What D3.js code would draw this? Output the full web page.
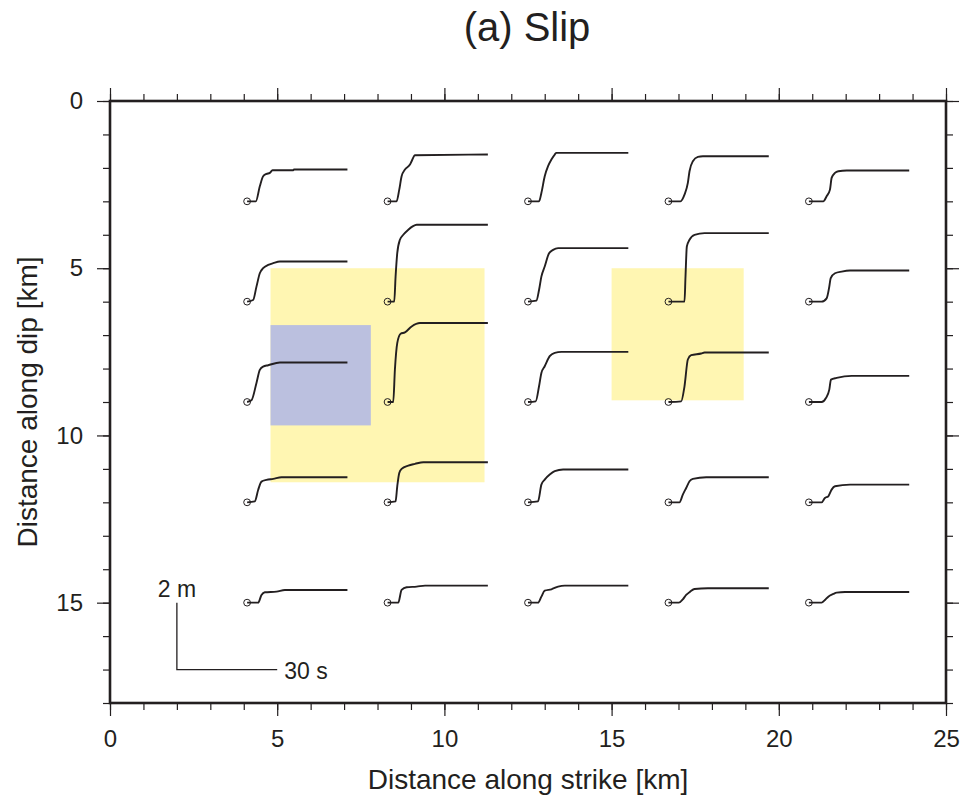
<!DOCTYPE html>
<html>
<head>
<meta charset="utf-8">
<script src="https://cdn.jsdelivr.net/npm/d3@7"></script>
<style>
  html, body { margin: 0; padding: 0; background: #fff; }
  svg { display: block; font-family: "Liberation Sans", Arial, Helvetica, sans-serif; }
</style>
</head>
<body>
<svg id="chart" width="963" height="803"></svg>
<script>
// station grid (km)
const stationX = [4.1, 8.3, 12.5, 16.7, 20.9];
const stationY = [3, 6, 9, 12, 15];

// slip histories, [time s, slip m], one list per row of stations
const slipRow3 = [
  [[0,0],[2.6,0],[3.8,0.45],[4.8,0.75],[5.8,0.82],[6.8,0.85],[7.6,0.93],[13.8,0.93],[14,0.95],[30,0.95]],
  [[0,0],[2.7,0],[3.5,0.35],[4.2,0.75],[5.2,0.95],[6.7,1.1],[7.2,1.2],[8.2,1.38],[30,1.4]],
  [[0,0],[3.3,0],[4.0,0.25],[5.0,0.75],[6.0,1.05],[7.0,1.25],[8.0,1.4],[8.5,1.45],[30,1.45]],
  [[0,0],[3.6,0],[4.8,0.2],[5.8,0.55],[6.3,0.9],[7.3,1.2],[8.8,1.33],[10.3,1.35],[30,1.35]],
  [[0,0],[4.3,0],[5.3,0.15],[6.3,0.35],[6.8,0.7],[7.8,0.85],[8.8,0.9],[11.3,0.92],[30,0.92]]
];
const slipRow6 = [
  [[0,0],[1.8,0.05],[2.8,0.45],[3.8,0.85],[4.8,1.0],[6.3,1.1],[7.8,1.15],[9.8,1.2],[30,1.2]],
  [[0,0],[2.0,0],[2.4,0.75],[2.9,1.45],[3.7,1.85],[4.7,2.0],[6.2,2.15],[7.5,2.25],[8.7,2.3],[30,2.3]],
  [[0,0],[2.5,0.03],[3.3,0.35],[4.0,0.75],[5.0,1.05],[6.3,1.45],[7.5,1.55],[9.0,1.6],[30,1.6]],
  [[0,0],[4.8,0],[5.1,0.75],[5.5,1.65],[6.3,1.85],[7.8,2.0],[10.8,2.05],[30,2.05]],
  [[0,0],[3.8,0],[5.3,0.1],[6.1,0.45],[6.5,0.7],[7.8,0.85],[9.8,0.9],[12.3,0.93],[30,0.93]]
];
const slipRow9 = [
  [[0,0],[1.3,0.05],[2.8,0.57],[3.8,0.96],[4.8,1.06],[6.3,1.1],[9.8,1.18],[30,1.18]],
  [[0,0],[1.7,0],[2.2,0.97],[2.9,1.76],[3.9,2.04],[5.2,2.08],[7.2,2.26],[9.7,2.36],[30,2.36]],
  [[0,0],[2.3,0.02],[3.3,0.47],[4.0,0.87],[5.0,1.07],[6.5,1.37],[8.0,1.47],[10.0,1.5],[30,1.5]],
  [[0,0],[3.8,0.02],[4.8,0.47],[5.8,1.27],[6.8,1.4],[9.8,1.45],[10.8,1.48],[30,1.48]],
  [[0,0],[3.8,0],[5.1,0.12],[6.1,0.37],[6.6,0.67],[8.3,0.72],[12.8,0.78],[30,0.78]]
];
const slipRow12 = [
  [[0,0],[2.3,0.03],[3.3,0.37],[4.3,0.62],[5.8,0.67],[7.8,0.7],[10.3,0.75],[30,0.75]],
  [[0,0],[2.4,0.03],[2.9,0.48],[3.5,0.88],[4.2,1.0],[6.2,1.1],[8.2,1.15],[10.7,1.2],[30,1.2]],
  [[0,0],[3.0,0.03],[4.0,0.53],[5.0,0.68],[6.5,0.83],[8.0,0.93],[10.5,0.98],[30,0.98]],
  [[0,0],[3.3,0],[4.3,0.23],[5.3,0.43],[6.3,0.63],[7.3,0.7],[11.3,0.75],[30,0.75]],
  [[0,0],[3.8,0],[4.8,0.13],[5.8,0.18],[6.8,0.38],[7.8,0.48],[12.3,0.53],[30,0.53]]
];
const slipRow15 = [
  [[0,0],[3.3,0],[4.3,0.23],[5.3,0.31],[8.8,0.33],[11.3,0.38],[30,0.38]],
  [[0,0],[3.2,0],[4.2,0.38],[5.7,0.46],[8.7,0.48],[11.2,0.51],[30,0.51]],
  [[0,0],[3.0,0],[4.0,0.18],[5.0,0.36],[7.0,0.4],[9.0,0.48],[11.0,0.51],[30,0.51]],
  [[0,0],[3.1,0],[4.3,0.1],[5.3,0.23],[6.5,0.33],[7.8,0.41],[11.8,0.43],[30,0.43]],
  [[0,0],[3.8,0],[4.8,0.08],[5.8,0.18],[7.3,0.26],[8.3,0.3],[10.8,0.32],[30,0.32]]
];
const slipRows = [slipRow3, slipRow6, slipRow9, slipRow12, slipRow15];

// patches [x0, y0, x1, y1] in km
const yellowPatches = [[4.8, 5.0, 11.2, 11.4], [15.0, 5.0, 18.95, 8.95]];
const bluePatches = [[4.8, 6.7, 7.8, 9.7]];

const xTicks = d3.range(0, 26, 1);
const yTicks = d3.range(0, 19, 1);
const xLabels = [0, 5, 10, 15, 20, 25];
const yLabels = [0, 5, 10, 15];

// 30 s per 3 km, 1 m per 1 km
const kmPerSec = 0.1, kmPerM = 1;
const scaleBar = {x: 2, y: 17, sec: 30, m: 2};

const m = {top: 101, right: 17, bottom: 100, left: 110};
const W = 963, H = 803;
const x = d3.scaleLinear().domain([0, 25]).range([m.left, W - m.right]);
const y = d3.scaleLinear().domain([0, 18]).range([m.top, H - m.bottom]);

const svg = d3.select("#chart");
const ink = "#231f20";

// patches
svg.append("g").selectAll("rect").data(yellowPatches).join("rect")
  .attr("x", d => x(d[0])).attr("y", d => y(d[1]))
  .attr("width", d => x(d[2]) - x(d[0])).attr("height", d => y(d[3]) - y(d[1]))
  .attr("fill", "#fff6b2");
svg.append("g").selectAll("rect").data(bluePatches).join("rect")
  .attr("x", d => x(d[0])).attr("y", d => y(d[1]))
  .attr("width", d => x(d[2]) - x(d[0])).attr("height", d => y(d[3]) - y(d[1]))
  .attr("fill", "#bbc0df");

// traces
const traces = [];
slipRows.forEach((row, i) => row.forEach((pts, j) => traces.push({sx: stationX[j], sy: stationY[i], pts})));

const gTr = svg.append("g");
traces.forEach(tr => {
  const line = d3.line()
    .x(p => x(tr.sx + p[0] * kmPerSec))
    .y(p => y(tr.sy - p[1] * kmPerM))
    .curve(d3.curveMonotoneX);
  gTr.append("path").datum(tr.pts).attr("d", line)
    .attr("fill", "none").attr("stroke", ink).attr("stroke-width", 1.9)
    .attr("stroke-linejoin", "round");
  gTr.append("circle").attr("cx", x(tr.sx)).attr("cy", y(tr.sy)).attr("r", 3.4)
    .attr("fill", "none").attr("stroke", ink).attr("stroke-width", 1);
});

// scale bar
svg.append("path")
  .attr("d", `M${x(scaleBar.x)},${y(scaleBar.y - scaleBar.m * kmPerM)}V${y(scaleBar.y)}H${x(scaleBar.x + scaleBar.sec * kmPerSec)}`)
  .attr("fill", "none").attr("stroke", ink).attr("stroke-width", 1.3);
svg.append("text").attr("x", x(scaleBar.x)).attr("y", y(scaleBar.y - scaleBar.m * kmPerM) - 6)
  .attr("text-anchor", "middle").attr("font-size", 23).attr("fill", ink).text(scaleBar.m + " m");
svg.append("text").attr("x", x(scaleBar.x + scaleBar.sec * kmPerSec) + 7).attr("y", y(scaleBar.y) + 9)
  .attr("font-size", 23).attr("fill", ink).text(scaleBar.sec + " s");

// axes: minor + major ticks on all sides
function styleAxis(g) {
  g.select(".domain").remove();
  g.selectAll("line").attr("stroke", ink).attr("stroke-width", 1.2);
  g.selectAll("text").attr("fill", ink).attr("font-size", 24).attr("font-family", "Liberation Sans, Arial, sans-serif");
}
const bottomY = y(18), topY = y(0), leftX = x(0), rightX = x(25);

svg.append("g").attr("transform", `translate(0,${bottomY})`)
  .call(d3.axisBottom(x).tickValues(xTicks).tickSize(7).tickFormat("")).call(styleAxis);
svg.append("g").attr("transform", `translate(0,${bottomY})`)
  .call(d3.axisBottom(x).tickValues(xLabels).tickSize(13).tickPadding(14).tickFormat(d3.format("d"))).call(styleAxis);
svg.append("g").attr("transform", `translate(0,${topY})`)
  .call(d3.axisTop(x).tickValues(xTicks).tickSize(7).tickFormat("")).call(styleAxis);
svg.append("g").attr("transform", `translate(0,${topY})`)
  .call(d3.axisTop(x).tickValues(xLabels).tickSize(13).tickFormat("")).call(styleAxis);
svg.append("g").attr("transform", `translate(${leftX},0)`)
  .call(d3.axisLeft(y).tickValues(yTicks).tickSize(7).tickFormat("")).call(styleAxis);
svg.append("g").attr("transform", `translate(${leftX},0)`)
  .call(d3.axisLeft(y).tickValues(yLabels).tickSize(13).tickPadding(14).tickFormat(d3.format("d"))).call(styleAxis);
svg.append("g").attr("transform", `translate(${rightX},0)`)
  .call(d3.axisRight(y).tickValues(yTicks).tickSize(7).tickFormat("")).call(styleAxis);
svg.append("g").attr("transform", `translate(${rightX},0)`)
  .call(d3.axisRight(y).tickValues(yLabels).tickSize(13).tickFormat("")).call(styleAxis);

// frame
svg.append("rect").attr("x", leftX).attr("y", topY)
  .attr("width", rightX - leftX).attr("height", bottomY - topY)
  .attr("fill", "none").attr("stroke", ink).attr("stroke-width", 2.6);

// titles
svg.append("text").attr("x", (leftX + rightX) / 2 - 1).attr("y", 41)
  .attr("text-anchor", "middle").attr("font-size", 40).attr("fill", ink).text("(a) Slip");
svg.append("text").attr("x", (leftX + rightX) / 2).attr("y", 789)
  .attr("text-anchor", "middle").attr("font-size", 28).attr("fill", ink).text("Distance along strike [km]");
svg.append("text").attr("transform", `translate(37,${(topY + bottomY) / 2}) rotate(-90)`)
  .attr("text-anchor", "middle").attr("font-size", 28).attr("fill", ink).text("Distance along dip [km]");
</script>
</body>
</html>
